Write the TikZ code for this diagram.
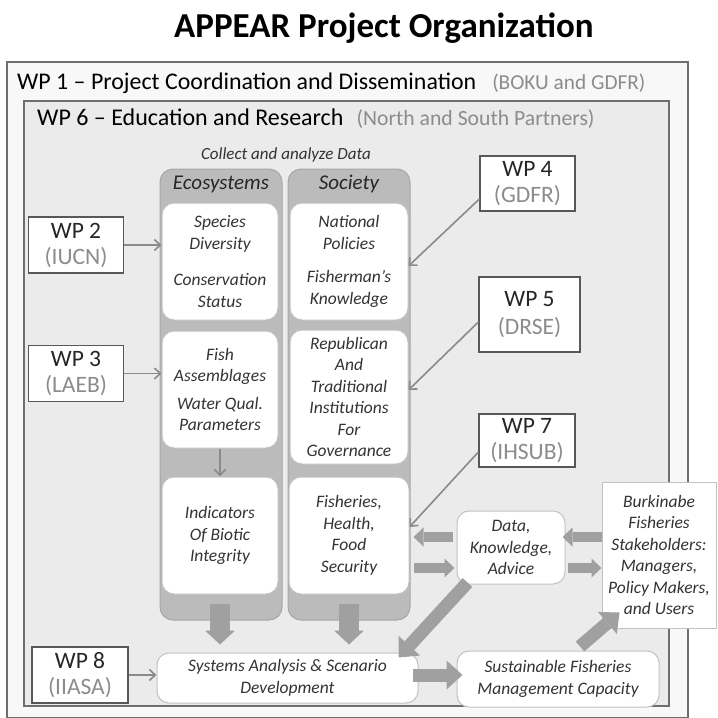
\documentclass[tikz,border=0pt]{standalone}
\usepackage{fontspec}
\setmainfont{Carlito}
\usetikzlibrary{arrows.meta,positioning}
\definecolor{pagegray}{HTML}{F8F8F8}
\definecolor{wpsixgray}{HTML}{EBEBEB}
\definecolor{framegray}{HTML}{6E6E6E}
\definecolor{colfill}{HTML}{BBBBBB}
\definecolor{coledge}{HTML}{A6A6A6}
\definecolor{boxedge}{HTML}{C2C2C2}
\definecolor{partgray}{HTML}{8C8C8C}
\definecolor{arrowgray}{HTML}{8A8A8A}
\definecolor{fatgray}{HTML}{A0A0A0}
\definecolor{textdark}{HTML}{333333}
\tikzstyle{wpframe} = [draw=framegray, line width=1.3pt, inner sep=0pt]
\tikzstyle{wpbox} = [draw=framegray!80!black, fill=white, line width=1.2pt, minimum width=95pt, minimum height=56pt, inner sep=0pt, align=center, text=black!85, font=\fontsize{23.5}{26}\selectfont]
\tikzstyle{datacol} = [draw=coledge, fill=colfill, rounded corners=13pt, line width=1pt, minimum width=122pt, minimum height=451pt]
\tikzstyle{colhead} = [text=black!85, font=\fontsize{21}{24}\selectfont\itshape]
\tikzstyle{topic} = [draw=boxedge, fill=white, rounded corners=12pt, line width=1pt, inner sep=0pt, align=center, text=textdark, minimum width=116pt, minimum height=117pt, font=\fontsize{17.5}{21.5}\selectfont\itshape]
\tikzstyle{thinarrow} = [color=arrowgray, line width=1.6pt, -{Straight Barb[length=6pt,width=11pt]}]
\tikzstyle{fatarrow} = [color=fatgray, line width=10pt, -{Triangle[length=10pt,width=19pt,line width=0pt]}]

\begin{document}
\begin{tikzpicture}[x=1pt,y=-1pt]
    \useasboundingbox[fill=white] (0,0) rectangle (718,718);

    \node[anchor=base, font=\fontsize{35}{40}\selectfont\bfseries] (Title) at (384,37) {APPEAR Project Organization};

    % the two work package frames
    \node[wpframe, fill=pagegray, minimum width=681pt, minimum height=656pt] (WPOne) at (347.5,390) {};
    \node[wpframe, fill=wpsixgray, minimum width=645pt, minimum height=605pt] (WPSix) at (346.5,403.5) {};
    \node[anchor=base west, inner sep=0pt, font=\fontsize{23.9}{26}\selectfont] (WPOneLabel) at (17,89) {WP 1 \textendash{} Project Coordination and Dissemination\hspace{16pt}{\fontsize{21.3}{26}\selectfont\color{partgray}(BOKU and GDFR)}};
    \node[anchor=base west, inner sep=0pt, font=\fontsize{24}{26}\selectfont] (WPSixLabel) at (37,125) {WP 6 \textendash{} Education and Research\hspace{13pt}{\fontsize{21.7}{26}\selectfont\color{partgray}(North and South Partners)}};
    \node[text=textdark, font=\fontsize{17}{20}\selectfont\itshape] (Collect) at (286,155) {Collect and analyze Data};

    \node[datacol] (Eco) at (221,394.5) {};
    \node[datacol] (Soc) [right of=Eco, node distance=128pt] {};
    \node[colhead] (EcoHead) at (221,184) {Ecosystems};
    \node[colhead] (SocHead) [right of=EcoHead, node distance=128pt] {Society};

    \node[topic] (Species) at (220,261.5) {Species\\Diversity\\[15pt]Conservation\\Status};
    \node[topic] (Fish) [below of=Species, node distance=128pt] {Fish\\Assemblages\\[6pt]Water Qual.\\Parameters};
    \node[topic] (Indicators) [below of=Fish, node distance=146pt] {Indicators\\Of Biotic\\Integrity};
    \node[topic, minimum width=118pt] (National) at (349,261.5) {National\\Policies\\[12pt]Fisherman's\\Knowledge};
    \node[topic, minimum width=118pt, minimum height=134pt] (Republican) at (349,397) {Republican\\And\\Traditional\\Institutions\\For\\Governance};
    \node[topic, minimum width=120pt] (Fisheries) at (349,535.5) {Fisheries,\\Health,\\Food\\Security};

    \node[wpbox] (WPTwo) at (76,245) {WP 2\\{\color{partgray}(IUCN)}};
    \node[wpbox] (WPThree) [below of=WPTwo, node distance=128.5pt] {WP 3\\{\color{partgray}(LAEB)}};
    \node[wpbox, minimum height=55pt] (WPFour) at (527.5,183.5) {WP 4\\{\color{partgray}(GDFR)}};
    \node[wpbox, minimum width=101pt, minimum height=75pt] (WPFive) at (529.5,314.5) {WP 5\\[2pt]{\color{partgray}(DRSE)}};
    \node[wpbox, minimum width=96pt, minimum height=53pt] (WPSeven) at (527,440.5) {WP 7\\{\color{partgray}(IHSUB)}};
    \node[wpbox, minimum width=96pt] (WPEight) at (80,675) {WP 8\\{\color{partgray}(IIASA)}};

    \node[topic, minimum width=108pt, minimum height=73pt] (Data) at (511,547.5) {Data,\\Knowledge,\\Advice};
    \node[topic, rounded corners=0pt, minimum width=114pt, minimum height=146pt] (Stake) at (659,555) {Burkinabe\\Fisheries\\Stakeholders:\\Managers,\\Policy Makers,\\and Users};
    \node[topic, minimum width=202pt, minimum height=56pt] (Capacity) at (558,679) {Sustainable Fisheries\\Management Capacity};
    \node[topic, minimum width=261pt, minimum height=50pt, font=\fontsize{17.5}{22}\selectfont\itshape] (Systems) at (287.5,678) {Systems Analysis \& Scenario\\Development};

    \path[thinarrow] (WPTwo.east) edge (WPTwo.east -| Species.west)
                     (WPThree.east) edge (WPThree.east -| Fish.west)
                     (WPEight.east) edge (WPEight.east -| Systems.west)
                     (Fish.south) edge (Indicators.north)
                     ([yshift=-15.5pt]WPFour.west) edge ([yshift=-4.5pt]National.east)
                     ([yshift=-7.5pt]WPFive.west) edge ([yshift=7pt]Republican.east)
                     ([yshift=-11.5pt]WPSeven.west) edge ([yshift=8.5pt]Fisheries.east);

    \path[fatarrow, line width=20pt, -{Triangle[length=14pt,width=30pt,line width=0pt]}]
        ([yshift=-9pt]Indicators.south) edge ([yshift=8pt]Indicators.south |- Systems.north)
        ([yshift=-9pt]Fisheries.south) edge ([yshift=8pt]Fisheries.south |- Systems.north);
    \path[fatarrow]
        ([shift={(-4pt,10.5pt)}]Data.west) edge ([shift={(4pt,10.5pt)}]Fisheries.east |- Data.west)
        ([shift={(4pt,-20.5pt)}]Fisheries.east |- Data.west) edge ([shift={(-2pt,-20.5pt)}]Data.west)
        ([yshift=10.5pt]Stake.west |- Data.east) edge ([shift={(-3pt,10.5pt)}]Data.east)
        ([shift={(2pt,-20.5pt)}]Data.east) edge ([yshift=-20.5pt]Stake.west |- Data.east);
    \path[fatarrow, line width=13pt, -{Triangle[length=16pt,width=29pt,line width=0pt]}]
        ([shift={(-6pt,3pt)}]Systems.east) edge ([shift={(6pt,3pt)}]Capacity.west |- Systems.east)
        ([shift={(11pt,2pt)}]Data.south west) edge ([shift={(-20pt,-5pt)}]Systems.north east)
        ([shift={(22pt,4pt)}]Capacity.north) edge ([shift={(18pt,16pt)}]Stake.south west); % up to the users
\end{tikzpicture}
\end{document}
